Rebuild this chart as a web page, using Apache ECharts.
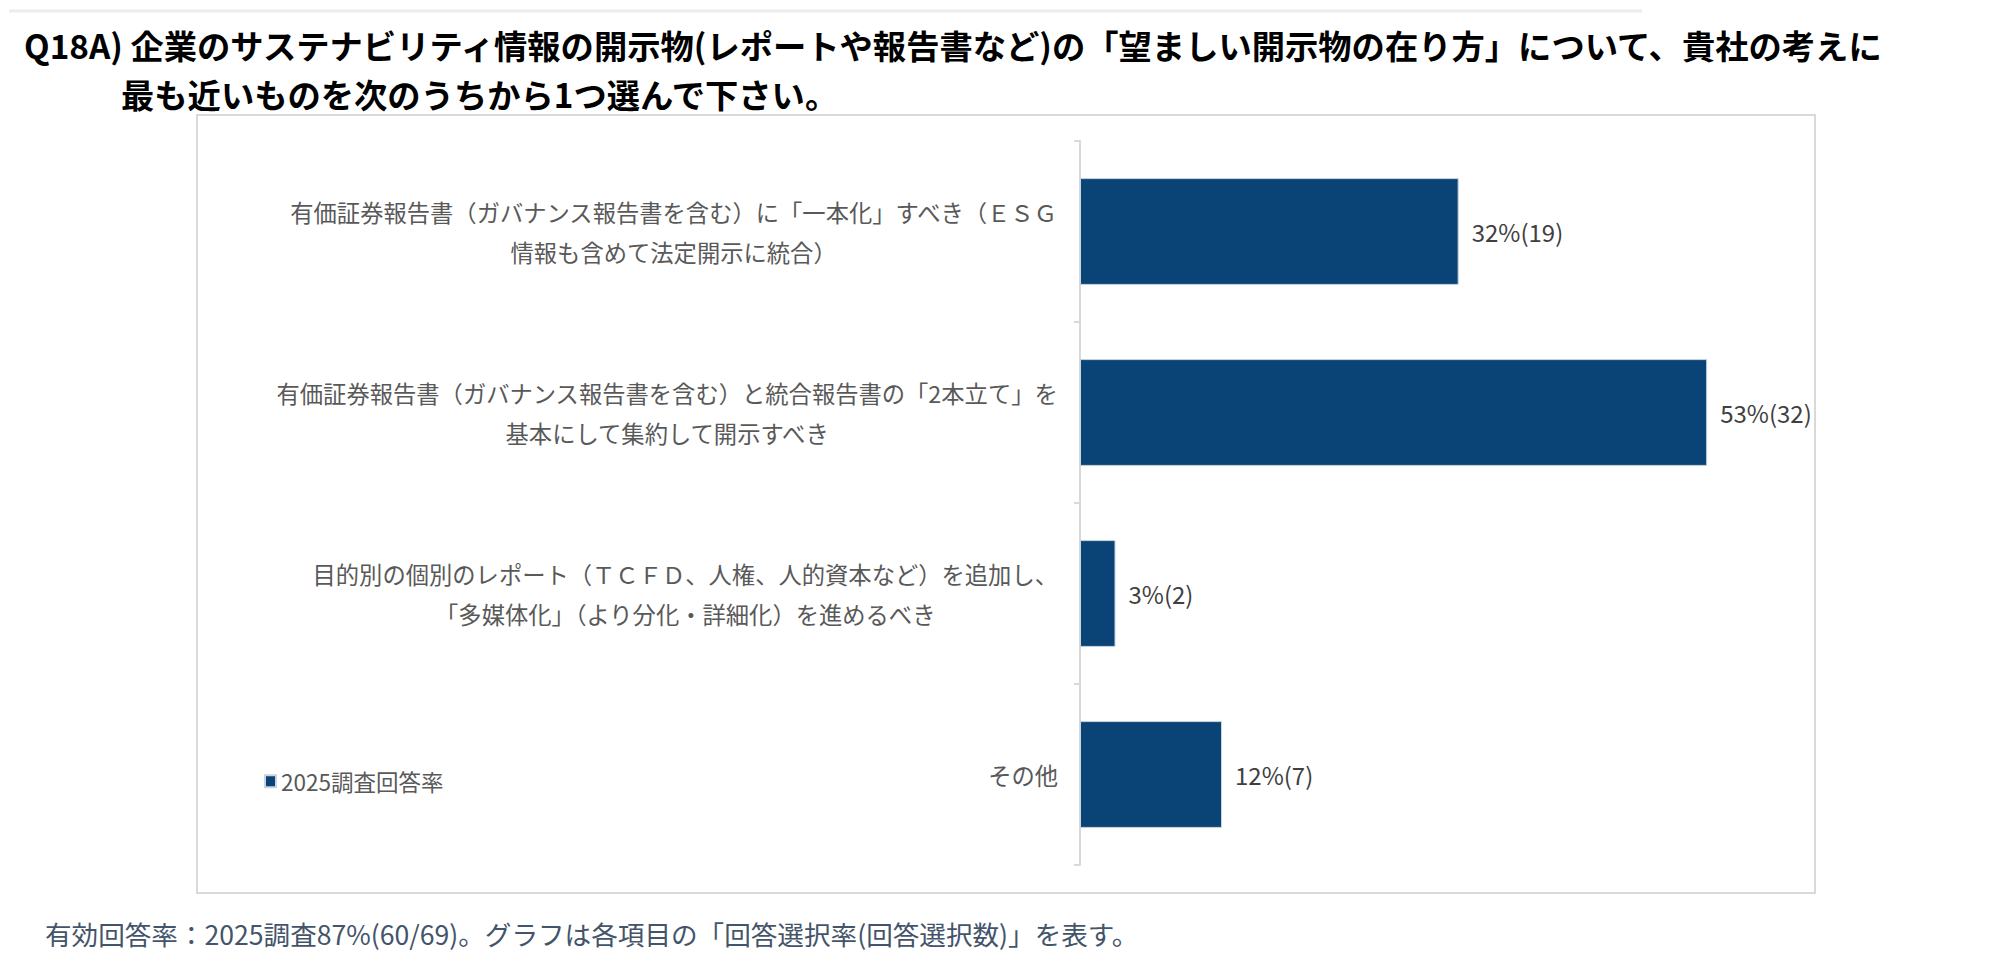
<!DOCTYPE html>
<html>
<head>
<meta charset="utf-8">
<script src="https://cdn.jsdelivr.net/npm/echarts@6/dist/echarts.min.js"></script>
<style>
html,body{margin:0;padding:0;background:#fff;}
#chart{width:1997px;height:962px;}
</style>
</head>
<body>
<div id="chart"></div>
<script>
const titleLine1 = 'Q18A) 企業のサステナビリティ情報の開示物(レポートや報告書など)の「望ましい開示物の在り方」について、貴社の考えに';
const titleLine2 = '最も近いものを次のうちから1つ選んで下さい。';
const footnote = '有効回答率：2025調査87%(60/69)。グラフは各項目の「回答選択率(回答選択数)」を表す。';
const seriesName = '2025調査回答率';
const categories = [
  '有価証券報告書（ガバナンス報告書を含む）に「一本化」すべき（ＥＳＧ\n情報も含めて法定開示に統合）',
  '有価証券報告書（ガバナンス報告書を含む）と統合報告書の「2本立て」を\n基本にして集約して開示すべき',
  '目的別の個別のレポート（ＴＣＦＤ、人権、人的資本など）を追加し、\n「多媒体化」（より分化・詳細化）を進めるべき',
  'その他'
];
const percents = [32, 53, 3, 12];
const counts = [19, 32, 2, 7];

const FONT = '"Noto Sans CJK JP", "Noto Sans", sans-serif';
const chart = echarts.init(document.getElementById('chart'), null, {renderer: 'svg'});

const titleStyle = {fontSize: 33.3, lineHeight: 33.3, fontWeight: 'bold', color: '#000000', fontFamily: FONT};

const option = {
  backgroundColor: '#ffffff',
  animation: false,
  textStyle: {fontFamily: FONT},
  title: [
    {text: titleLine1, left: 24, top: 27.5, padding: 0, textStyle: titleStyle},
    {text: titleLine2, left: 121, top: 76.5, padding: 0, textStyle: titleStyle},
    {text: footnote, left: 45, top: 919, padding: 0,
     textStyle: {fontSize: 26.6, lineHeight: 28, fontWeight: 'normal', color: '#44546A', fontFamily: FONT}}
  ],
  graphic: [
    {type: 'line', shape: {x1: 9, y1: 11, x2: 1642, y2: 11},
     style: {stroke: '#ececec', lineWidth: 3}, z: -10},
    {type: 'rect', shape: {x: 197, y: 115, width: 1618, height: 778},
     style: {stroke: '#d9d9d9', lineWidth: 2, fill: 'none'}, z: -10}
  ],
  legend: {
    data: [seriesName],
    left: 264, top: 770, padding: 0,
    icon: 'rect', itemWidth: 11, itemHeight: 12,
    textStyle: {fontSize: 22.5, color: '#595959', fontFamily: FONT}
  },
  grid: {left: 1080, top: 141, bottom: 97, right: 207, containLabel: false},
  xAxis: {
    type: 'value', min: 0, max: 60, show: false,
    splitLine: {show: false}
  },
  yAxis: {
    type: 'category', inverse: true, data: categories,
    axisLine: {show: true, lineStyle: {color: '#d9d9d9', width: 2}},
    axisTick: {show: true, length: 6, lineStyle: {color: '#d9d9d9', width: 2}},
    axisLabel: {
      margin: 22,
      fontSize: 23.3, color: '#595959', fontFamily: FONT, lineHeight: 40,
      formatter: function (v) {
        return v.split('\n').map(function (l) { return '{c|' + l + '}'; }).join('\n');
      },
      rich: {c: {align: 'center', fontSize: 23.3, lineHeight: 40, color: '#595959', fontFamily: FONT}}
    }
  },
  series: [{
    name: seriesName,
    type: 'bar',
    data: percents,
    barCategoryGap: '41%',
    itemStyle: {color: '#0A4375', borderColor: '#c9d4e0', borderWidth: 1},
    label: {
      show: true, position: 'right', distance: 13,
      fontSize: 24, color: '#404040', fontFamily: FONT,
      formatter: function (p) { return percents[p.dataIndex] + '%(' + counts[p.dataIndex] + ')'; }
    }
  }]
};
chart.setOption(option);
</script>
</body>
</html>
